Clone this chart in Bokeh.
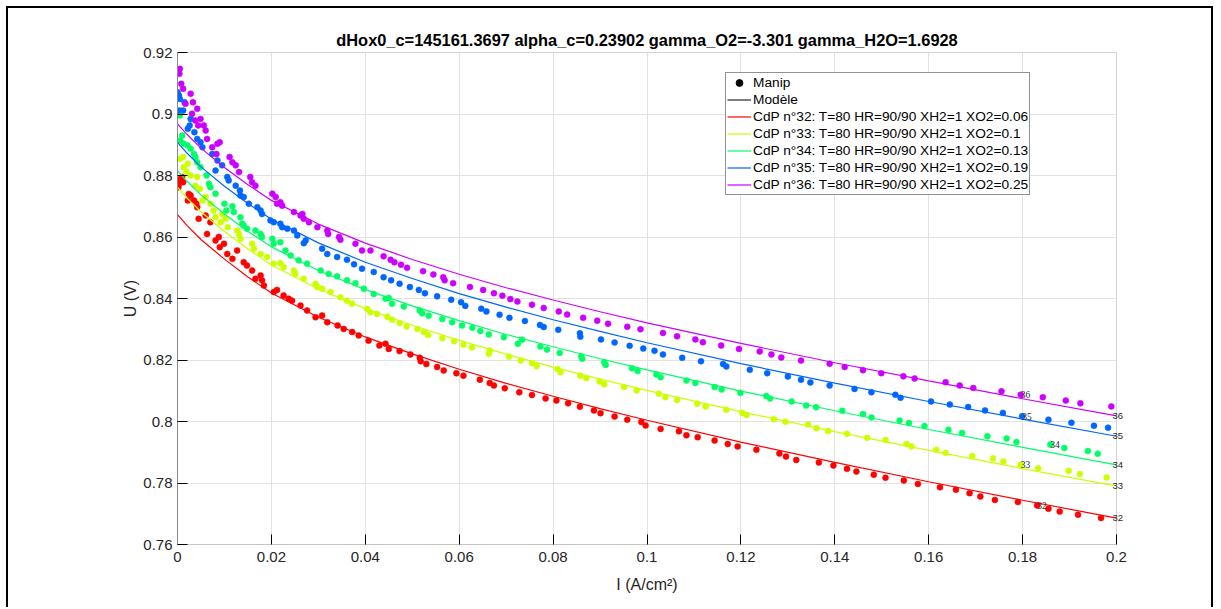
import numpy as np
from bokeh.plotting import figure
from bokeh.models import (ColumnDataSource, Range1d, FixedTicker, CustomJSTickFormatter,
                          Legend, LegendItem, LabelSet, LinearAxis)
from bokeh.embed import file_html
from bokeh.resources import INLINE

# ---------------- data ----------------
title_text = "dHox0_c=145161.3697 alpha_c=0.23902 gamma_O2=-3.301 gamma_H2O=1.6928"
x_ticks = [0, 0.02, 0.04, 0.06, 0.08, 0.1, 0.12, 0.14, 0.16, 0.18, 0.2]
y_ticks = [0.76, 0.78, 0.8, 0.82, 0.84, 0.86, 0.88, 0.9, 0.92]

cell_ids = ["32", "33", "34", "35", "36"]
legend_labels = [
    "CdP n°32: T=80 HR=90/90 XH2=1 XO2=0.06",
    "CdP n°33: T=80 HR=90/90 XH2=1 XO2=0.1",
    "CdP n°34: T=80 HR=90/90 XH2=1 XO2=0.13",
    "CdP n°35: T=80 HR=90/90 XH2=1 XO2=0.19",
    "CdP n°36: T=80 HR=90/90 XH2=1 XO2=0.25",
]
colors = ["#ff0000", "#ccff00", "#00ff66", "#0066ff", "#cc00ff"]

# model curves (Modèle)
model_I = [0, 0.002, 0.005, 0.01, 0.015, 0.02, 0.03, 0.04, 0.05, 0.06, 0.07, 0.08,
           0.09, 0.1, 0.12, 0.14, 0.16, 0.18, 0.2]
model_32 = [0.8673, 0.8638, 0.8592, 0.8528, 0.8470, 0.8418, 0.8339, 0.8275, 0.8220, 0.8170,
            0.8124, 0.8082, 0.8042, 0.8004, 0.7933, 0.7867, 0.7804, 0.7744, 0.7686]
model_33 = [0.8762, 0.8727, 0.8682, 0.8618, 0.8561, 0.8509, 0.8431, 0.8367, 0.8313, 0.8264,
            0.8219, 0.8177, 0.8138, 0.8101, 0.8032, 0.7967, 0.7906, 0.7847, 0.7790]
model_34 = [0.8816, 0.8782, 0.8737, 0.8675, 0.8618, 0.8568, 0.8491, 0.8429, 0.8376, 0.8328,
            0.8283, 0.8243, 0.8204, 0.8168, 0.8099, 0.8035, 0.7974, 0.7916, 0.7859]
model_35 = [0.8908, 0.8873, 0.8828, 0.8765, 0.8709, 0.8658, 0.8581, 0.8518, 0.8465, 0.8416,
            0.8372, 0.8331, 0.8293, 0.8256, 0.8188, 0.8125, 0.8065, 0.8008, 0.7952]
model_36 = [0.8968, 0.8934, 0.8889, 0.8826, 0.8770, 0.8719, 0.8642, 0.8580, 0.8527, 0.8479,
            0.8435, 0.8395, 0.8357, 0.8321, 0.8254, 0.8191, 0.8132, 0.8074, 0.8018]

# measured points (Manip)
I_32 = [0.0002,0.0004,0.0006,0.0010,0.0012,0.0022,0.0024,0.0028,0.0035,0.0040,0.0042,0.0045,
        0.0060,0.0063,0.0070,0.0081,0.0088,0.0090,0.0099,0.0106,0.0117,0.0127,0.0141,0.0148,
        0.0159,0.0166,0.0177,0.0180,0.0184,0.0205,0.0212,0.0226,0.0237,0.0244,0.0262,0.0276,
        0.0294,0.0308,0.0319,0.0341,0.0354,0.0372,0.0386,0.0407,0.0430,0.0443,0.0450,0.0473,
        0.0496,0.0516,0.0518,0.0530,0.0553,0.0567,0.0594,0.0609,0.0644,0.0665,0.0674,0.0697,
        0.0728,0.0755,0.0784,0.0807,0.0832,0.0857,0.0887,0.0901,0.0931,0.0958,0.0988,0.0997,
        0.1029,0.1068,0.1084,0.1108,0.1144,0.1172,0.1193,0.1233,0.1282,0.1296,0.1318,0.1366,
        0.1397,0.1426,0.1446,0.1483,0.1508,0.1547,0.1577,0.1624,0.1658,0.1687,0.1710,0.1741,
        0.1790,0.1831,0.1855,0.1879,0.1918,0.1967]
U_32 = [0.8762,0.8775,0.8789,0.8795,0.8778,0.8719,0.8740,0.8735,0.8719,0.8708,0.8697,0.8659,
        0.8670,0.8610,0.8648,0.8589,0.8600,0.8567,0.8578,0.8545,0.8529,0.8556,0.8518,0.8507,
        0.8491,0.8464,0.8475,0.8459,0.8442,0.8421,0.8428,0.8410,0.8399,0.8393,0.8377,0.8361,
        0.8339,0.8345,0.8323,0.8312,0.8301,0.8291,0.8280,0.8263,0.8247,0.8253,0.8236,0.8229,
        0.8218,0.8207,0.8196,0.8187,0.8177,0.8166,0.8157,0.8149,0.8136,0.8125,0.8117,0.8108,
        0.8095,0.8086,0.8075,0.8068,0.8059,0.8048,0.8036,0.8027,0.8016,0.8006,0.7998,0.7987,
        0.7976,0.7968,0.7955,0.7949,0.7938,0.7927,0.7919,0.7908,0.7896,0.7886,0.7875,0.7867,
        0.7857,0.7846,0.7837,0.7827,0.7817,0.7808,0.7797,0.7786,0.7778,0.7767,0.7756,0.7745,
        0.7738,0.7727,0.7716,0.7707,0.7697,0.7686]

I_33 = [0.0005,0.0012,0.0013,0.0019,0.0022,0.0028,0.0038,0.0042,0.0048,0.0053,0.0060,0.0070,
        0.0077,0.0081,0.0092,0.0095,0.0102,0.0107,0.0127,0.0131,0.0134,0.0159,0.0163,0.0177,
        0.0191,0.0205,0.0219,0.0226,0.0248,0.0251,0.0269,0.0294,0.0298,0.0308,0.0326,0.0347,
        0.0361,0.0372,0.0404,0.0411,0.0425,0.0447,0.0457,0.0473,0.0488,0.0511,0.0525,0.0534,
        0.0564,0.0589,0.0609,0.0627,0.0663,0.0665,0.0706,0.0731,0.0755,0.0765,0.0809,0.0816,
        0.0858,0.0871,0.0899,0.0909,0.0951,0.0978,0.1025,0.1039,0.1064,0.1107,0.1125,0.1169,
        0.1203,0.1212,0.1270,0.1295,0.1343,0.1361,0.1386,0.1426,0.1469,0.1508,0.1553,0.1563,
        0.1616,0.1636,0.1693,0.1737,0.1759,0.1796,0.1833,0.1898,0.1922,0.1979]
U_33 = [0.8854,0.8860,0.8827,0.8811,0.8838,0.8800,0.8767,0.8795,0.8757,0.8719,0.8730,0.8708,
        0.8686,0.8664,0.8648,0.8675,0.8659,0.8632,0.8621,0.8610,0.8594,0.8578,0.8562,0.8545,
        0.8535,0.8513,0.8515,0.8502,0.8491,0.8480,0.8464,0.8448,0.8437,0.8432,0.8421,0.8404,
        0.8393,0.8383,0.8366,0.8355,0.8350,0.8341,0.8331,0.8320,0.8309,0.8301,0.8291,0.8281,
        0.8271,0.8261,0.8250,0.8241,0.8220,0.8231,0.8211,0.8198,0.8190,0.8180,0.8171,0.8160,
        0.8149,0.8141,0.8130,0.8121,0.8112,0.8101,0.8090,0.8079,0.8070,0.8058,0.8049,0.8038,
        0.8028,0.8021,0.8007,0.7999,0.7990,0.7978,0.7969,0.7960,0.7947,0.7940,0.7927,0.7919,
        0.7908,0.7898,0.7888,0.7880,0.7870,0.7859,0.7848,0.7840,0.7829,0.7818]

I_34 = [0.0005,0.0006,0.0010,0.0013,0.0021,0.0028,0.0035,0.0038,0.0042,0.0049,0.0062,0.0067,
        0.0070,0.0081,0.0100,0.0104,0.0117,0.0120,0.0134,0.0138,0.0141,0.0148,0.0166,0.0177,
        0.0180,0.0202,0.0205,0.0219,0.0230,0.0241,0.0258,0.0276,0.0305,0.0322,0.0340,0.0361,
        0.0379,0.0397,0.0418,0.0443,0.0450,0.0457,0.0482,0.0516,0.0521,0.0535,0.0564,0.0585,
        0.0606,0.0628,0.0645,0.0663,0.0695,0.0725,0.0734,0.0773,0.0787,0.0814,0.0860,0.0862,
        0.0909,0.0912,0.0968,0.0980,0.1020,0.1029,0.1084,0.1103,0.1144,0.1159,0.1199,0.1254,
        0.1262,0.1308,0.1339,0.1360,0.1416,0.1460,0.1478,0.1538,0.1558,0.1591,0.1642,0.1671,
        0.1725,0.1766,0.1787,0.1859,0.1889,0.1939,0.1960]
U_34 = [0.8995,0.8914,0.8930,0.8903,0.8898,0.8887,0.8870,0.8860,0.8843,0.8827,0.8800,0.8773,
        0.8762,0.8741,0.8708,0.8686,0.8700,0.8681,0.8664,0.8643,0.8637,0.8627,0.8621,0.8610,
        0.8600,0.8594,0.8578,0.8583,0.8556,0.8540,0.8524,0.8513,0.8491,0.8480,0.8472,0.8459,
        0.8450,0.8432,0.8415,0.8399,0.8402,0.8383,0.8374,0.8361,0.8352,0.8344,0.8333,0.8323,
        0.8312,0.8305,0.8294,0.8283,0.8274,0.8253,0.8266,0.8244,0.8234,0.8223,0.8212,0.8204,
        0.8193,0.8184,0.8173,0.8164,0.8153,0.8144,0.8133,0.8125,0.8112,0.8104,0.8093,0.8083,
        0.8075,0.8065,0.8052,0.8046,0.8035,0.8024,0.8013,0.8003,0.7995,0.7985,0.7973,0.7963,
        0.7952,0.7945,0.7933,0.7925,0.7914,0.7904,0.7895]

I_35 = [0.0000,0.0003,0.0004,0.0005,0.0012,0.0015,0.0022,0.0026,0.0028,0.0036,0.0042,0.0049,
        0.0053,0.0074,0.0081,0.0085,0.0095,0.0106,0.0109,0.0124,0.0133,0.0134,0.0141,0.0152,
        0.0170,0.0177,0.0180,0.0198,0.0205,0.0219,0.0223,0.0234,0.0248,0.0255,0.0269,0.0273,
        0.0308,0.0319,0.0340,0.0361,0.0376,0.0393,0.0418,0.0439,0.0455,0.0473,0.0495,0.0514,
        0.0527,0.0553,0.0583,0.0604,0.0613,0.0647,0.0658,0.0686,0.0707,0.0740,0.0772,0.0780,
        0.0811,0.0857,0.0858,0.0902,0.0931,0.0963,0.0992,0.1016,0.1034,0.1075,0.1115,0.1162,
        0.1169,0.1219,0.1256,0.1300,0.1328,0.1348,0.1389,0.1442,0.1478,0.1529,0.1540,0.1605,
        0.1645,0.1684,0.1720,0.1758,0.1799,0.1855,0.1904,0.1952,0.1982]
U_35 = [0.9071,0.9060,0.9011,0.9049,0.9011,0.9038,0.8952,0.8963,0.8984,0.8941,0.8919,0.8908,
        0.8892,0.8870,0.8816,0.8849,0.8833,0.8795,0.8784,0.8767,0.8751,0.8735,0.8730,0.8708,
        0.8697,0.8686,0.8675,0.8654,0.8648,0.8643,0.8632,0.8627,0.8621,0.8605,0.8580,0.8589,
        0.8562,0.8545,0.8535,0.8526,0.8511,0.8497,0.8486,0.8469,0.8459,0.8448,0.8437,0.8428,
        0.8417,0.8407,0.8396,0.8388,0.8376,0.8367,0.8358,0.8347,0.8337,0.8327,0.8314,0.8307,
        0.8298,0.8287,0.8276,0.8267,0.8257,0.8246,0.8237,0.8230,0.8218,0.8207,0.8196,0.8187,
        0.8179,0.8168,0.8157,0.8146,0.8136,0.8127,0.8117,0.8106,0.8095,0.8087,0.8077,0.8065,
        0.8055,0.8047,0.8036,0.8028,0.8017,0.8006,0.7996,0.7986,0.7980]

I_36 = [0.0004,0.0005,0.0008,0.0012,0.0017,0.0028,0.0031,0.0033,0.0038,0.0042,0.0044,0.0049,
        0.0056,0.0060,0.0063,0.0074,0.0083,0.0085,0.0090,0.0111,0.0117,0.0124,0.0131,0.0155,
        0.0159,0.0166,0.0202,0.0209,0.0212,0.0219,0.0223,0.0248,0.0262,0.0266,0.0269,0.0280,
        0.0298,0.0319,0.0321,0.0344,0.0347,0.0379,0.0393,0.0411,0.0439,0.0454,0.0462,0.0476,
        0.0489,0.0523,0.0545,0.0566,0.0569,0.0587,0.0623,0.0651,0.0674,0.0692,0.0709,0.0724,
        0.0755,0.0780,0.0812,0.0830,0.0864,0.0894,0.0917,0.0958,0.0986,0.1034,0.1064,0.1103,
        0.1119,0.1158,0.1196,0.1240,0.1265,0.1286,0.1328,0.1389,0.1421,0.1460,0.1499,0.1546,
        0.1570,0.1636,0.1666,0.1695,0.1755,0.1796,0.1843,0.1892,0.1923,0.1989]
U_36 = [0.9131,0.9147,0.9098,0.9082,0.9033,0.9066,0.9001,0.9038,0.8979,0.9017,0.8963,0.8984,
        0.8963,0.8946,0.8919,0.8892,0.8870,0.8903,0.8908,0.8860,0.8843,0.8833,0.8811,0.8795,
        0.8778,0.8767,0.8741,0.8730,0.8708,0.8713,0.8702,0.8681,0.8670,0.8675,0.8659,0.8648,
        0.8632,0.8621,0.8610,0.8600,0.8591,0.8578,0.8556,0.8556,0.8537,0.8526,0.8518,0.8510,
        0.8500,0.8489,0.8478,0.8469,0.8459,0.8450,0.8437,0.8428,0.8417,0.8409,0.8398,0.8390,
        0.8380,0.8369,0.8358,0.8348,0.8337,0.8328,0.8318,0.8308,0.8300,0.8288,0.8277,0.8267,
        0.8258,0.8247,0.8236,0.8228,0.8218,0.8208,0.8198,0.8188,0.8177,0.8167,0.8157,0.8147,
        0.8140,0.8128,0.8117,0.8109,0.8098,0.8087,0.8079,0.8068,0.8059,0.8049]

# current value of the measured point that carries the cell number label
label_point_I = [0.1831, 0.1796, 0.1859, 0.1799, 0.1796]

I_all = [I_32, I_33, I_34, I_35, I_36]
U_all = [U_32, U_33, U_34, U_35, U_36]
M_all = [model_32, model_33, model_34, model_35, model_36]

# ---------------- figure ----------------
FONT = "Liberation Sans"
W, H = 1207, 601
L, R, T, B = 169, 99, 44, 65

p = figure(width=W, height=H, output_backend="svg", toolbar_location=None,
           x_range=Range1d(0, 0.2), y_range=Range1d(0.76, 0.92),
           min_border_left=L, min_border_right=R, min_border_top=T, min_border_bottom=B,
           background_fill_color="white", border_fill_color="white")
p.styles = {"margin-left": "6px", "margin-top": "6px",
            "border-left": "2px solid black", "border-top": "2px solid black",
            "border-right": "2px solid black"}
p.outline_line_color = "#d4d4d4"
p.outline_line_width = 1

p.title.text = title_text
p.title.align = "center"
p.title.text_font = FONT
p.title.text_font_size = "16.4px"
p.title.text_font_style = "bold"
p.title.text_color = "#000000"
p.title.standoff = 7

fmt = CustomJSTickFormatter(code="""
    var s = tick.toFixed(2);
    s = s.replace(/0+$/, '').replace(/\\.$/, '');
    return s;
""")
for ax, ticks in ((p.xaxis[0], x_ticks), (p.yaxis[0], y_ticks)):
    ax.ticker = FixedTicker(ticks=ticks)
    ax.formatter = fmt
    ax.major_tick_in = 10
    ax.major_tick_out = 0
    ax.minor_tick_line_color = None
    ax.major_tick_line_color = "#000000"
    ax.major_label_text_font = FONT
    ax.major_label_text_font_size = "15px"
    ax.major_label_text_color = "#262626"
    ax.axis_label_text_font = FONT
    ax.axis_label_text_font_size = "16px"
    ax.axis_label_text_font_style = "normal"
    ax.axis_label_text_color = "#262626"

p.xaxis.axis_label = "I (A/cm²)"
p.yaxis.axis_label = "U (V)"
p.xaxis.axis_line_color = "#c4c4c4"
p.yaxis.axis_line_color = "#8a8a8a"
p.xaxis.major_label_standoff = 7
p.yaxis.major_label_standoff = 5
p.xaxis.axis_label_standoff = 11
p.yaxis.axis_label_standoff = 1

p.xgrid.ticker = FixedTicker(ticks=x_ticks)
p.ygrid.ticker = FixedTicker(ticks=y_ticks)
p.grid.grid_line_color = "#e2e2e2"
p.grid.grid_line_width = 1

items_series = []
point_lab_x, point_lab_y, end_vals = [], [], []
for cid, lab, col, Ii, Ui, Mi, lpi in zip(cell_ids, legend_labels, colors, I_all, U_all, M_all, label_point_I):
    line = p.line(model_I, Mi, line_color=col, line_width=1.2)
    p.scatter(Ii, Ui, marker="circle", size=6, fill_color=col, line_color=col, line_width=0.5)
    items_series.append(LegendItem(label=lab, renderers=[line]))
    k = int(np.argmin(np.abs(np.array(Ii) - lpi)))
    point_lab_x.append(Ii[k]); point_lab_y.append(Ui[k])
    end_vals.append(Mi[-1])

# renderers with no visible data, only for the legend entries Manip / Modèle
manip = p.scatter([np.nan], [np.nan], marker="circle", size=4.5, fill_color="black", line_color="black")
modele = p.line([np.nan, np.nan], [np.nan, np.nan], line_color="black", line_width=1)

legend = Legend(items=[LegendItem(label="Manip", renderers=[manip]),
                       LegendItem(label="Modèle", renderers=[modele])] + items_series,
                location=(548, 349))
legend.label_text_font = FONT
legend.label_text_font_size = "13.7px"
legend.label_text_color = "#000000"
legend.label_height = 17
legend.glyph_height = 17
legend.glyph_width = 24
legend.label_standoff = 2
legend.spacing = 0
legend.padding = 1
legend.margin = 0
legend.border_line_color = "#262626"
legend.border_line_width = 1
legend.background_fill_color = "white"
legend.background_fill_alpha = 1
p.add_layout(legend, "center")

# cell numbers next to one measured point of each series
src_pt = ColumnDataSource(dict(x=point_lab_x, y=point_lab_y, t=cell_ids))
p.add_layout(LabelSet(x="x", y="y", text="t", source=src_pt,
                      text_font=FONT, text_font_size="9.5px", text_color="#262626",
                      text_baseline="middle", text_align="left"))

# cell numbers at the end of each model curve (right side)
end_axis = LinearAxis(ticker=FixedTicker(ticks=end_vals),
                      formatter=CustomJSTickFormatter(args=dict(names=cell_ids),
                                                      code="return names[index];"))
end_axis.axis_line_color = None
end_axis.major_tick_line_color = None
end_axis.minor_tick_line_color = None
end_axis.major_tick_in = 0
end_axis.major_tick_out = 0
end_axis.major_label_standoff = -4
end_axis.major_label_text_font = FONT
end_axis.major_label_text_font_size = "9.5px"
end_axis.major_label_text_color = "#262626"
p.add_layout(end_axis, "right")

open("out.html", "w").write(file_html(p, INLINE))
